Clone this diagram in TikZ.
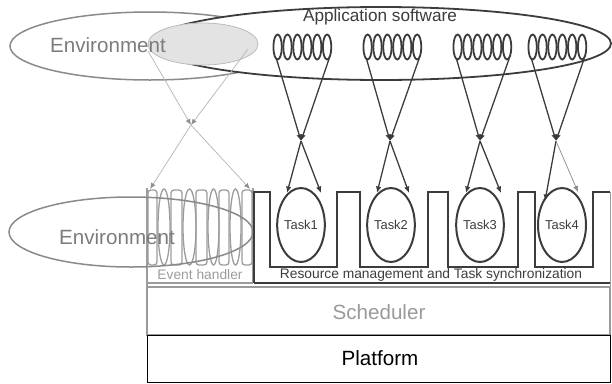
\documentclass[tikz,border=0pt]{standalone}
\usepackage{fontspec}
\setmainfont{Liberation Sans}
\usetikzlibrary{arrows.meta,shapes.geometric}
\definecolor{dk}{HTML}{3C3C3C}
\definecolor{envc}{HTML}{8A8A8A}
\definecolor{envt}{HTML}{7C7C7C}
\definecolor{evc}{HTML}{9C9C9C}
\definecolor{ltl}{HTML}{BBBBBB}
\definecolor{ltt}{HTML}{8E8E8E}
\definecolor{grayfill}{HTML}{E3E3E3}
\definecolor{schc}{HTML}{9A9A9A}
\tikzset{
  darkline/.style={draw=dk, line width=1.3pt},
  darktip/.style={-{Latex[length=6.5pt,width=5.5pt]}, darkline},
  lighttip/.style={-{Latex[length=6pt,width=5pt,fill=ltt,color=ltt]}, draw=ltl, line width=0.8pt},
  coilring/.style={draw=dk, line width=1.8pt},
  tasknode/.style={draw=dk, line width=2pt, ellipse, minimum width=44pt, minimum height=74pt, inner sep=0pt, font=\fontsize{12.9}{15}\selectfont, text=dk},
  evpart/.style={draw=evc, line width=1.3pt},
  bigtext/.style={font=\fontsize{20.6}{24}\selectfont},
  smalltext/.style={font=\fontsize{13.8}{16}\selectfont},
}
\begin{document}
\begin{tikzpicture}[x=1pt,y=-1pt]
\useasboundingbox (0,0) rectangle (612,383);
% top environment ellipse
\draw[draw=envc, line width=1.5pt] (150,46) ellipse [x radius=140, y radius=34];
% application software ellipse
\draw[fill=white, draw=dk, line width=1.8pt] (381,43.5) ellipse [x radius=230, y radius=36.5];
\node[font=\fontsize{17.2}{20}\selectfont, text=dk] (app) at (380,17) {Application software};
% gray inner ellipse
\draw[fill=grayfill, draw=ltl, line width=0.8pt] (203,44) ellipse [x radius=55, y radius=21];
\node[bigtext, text=envt] (env1) at (108,45) {Environment};
% coils in application
\foreach \cx/\nm in {273/c1,363/c2,453/c3,528/c4}{
  \foreach \k in {0,...,5}{
    \draw[coilring] ({\cx+4.6+\k*9.9},47) ellipse [x radius=4.2, y radius=12.5];
  }
  \coordinate (\nm l) at ({\cx+3.5},59);
  \coordinate (\nm r) at ({\cx+56},59);
}
% junctions
\coordinate (j1) at (301,141);
\coordinate (j2) at (390,141);
\coordinate (j3) at (480,141);
\coordinate (j4) at (556,141);
\coordinate (je) at (191,125);
% task ellipses
\node[tasknode, minimum width=46pt] (t1) at (301,225) {Task1};
\node[tasknode, minimum width=42pt] (t2) at (391,225) {Task2};
\node[tasknode, minimum width=44pt] (t3) at (480,225) {Task3};
\node[tasknode, minimum width=48pt] (t4) at (562,225) {Task4};
% arrows
\draw[darktip] (c1l) -- (j1);
\draw[darktip] (c1r) -- (j1);
\draw[darktip] (c2l) -- (j2);
\draw[darktip] (c2r) -- (j2);
\draw[darktip] (c3l) -- (j3);
\draw[darktip] (c3r) -- (j3);
\draw[darktip] (c4l) -- (j4);
\draw[darktip] (c4r) -- (j4);
\coordinate (t1a) at (287,193);
\coordinate (t1b) at (321,193);
\coordinate (t2a) at (377,193);
\coordinate (t2b) at (409,193);
\coordinate (t3a) at (466,193);
\coordinate (t3b) at (501,193);
\coordinate (t4a) at (545,201);
\coordinate (t4b) at (578,192);
\draw[darktip] (j1) -- (t1a);
\draw[darktip] (j1) -- (t1b);
\draw[darktip] (j2) -- (t2a);
\draw[darktip] (j2) -- (t2b);
\draw[darktip] (j3) -- (t3a);
\draw[darktip] (j3) -- (t3b);
\draw[darktip] (j4) -- (t4a);
\draw[-{Latex[length=6pt,width=5pt]}, draw=dk!60, line width=0.7pt] (j4) -- (t4b);
% environment light arrows
\coordinate (ga) at (148,51);
\coordinate (gb) at (248,49);
\coordinate (ea) at (150,189);
\coordinate (eb) at (250,189);
\draw[lighttip] (ga) -- (je);
\draw[lighttip] (gb) -- (je);
\draw[lighttip] (je) -- (ea);
\draw[lighttip] (je) -- (eb);
% event handler coil
\foreach \xa/\xb in {148/157,171/182,196/207,219/229,242/252}{
  \draw[evpart, rounded corners=3pt] (\xa,265) -- (\xa,190) -- (\xb,190) -- (\xb,265) -- cycle;
}
\foreach \ex/\erx in {164/6,189.5/6.5,213.5/5.5,235.5/5.5}{
  \draw[evpart] (\ex,227) ellipse [x radius=\erx, y radius=38];
}
\draw[evpart] (147,188) -- (147,287);
\draw[evpart] (253,188) -- (253,283);
\draw[evpart] (147,283) -- (253,283);
\node[smalltext, text=evc] (evh) at (200,275) {Event handler};
% bottom environment ellipse
\draw[draw=envc, line width=1.5pt] (131,232) ellipse [x radius=122, y radius=35];
\node[bigtext, text=envt] (env2) at (117,237) {Environment};
% resource comb
\draw[draw=dk, line width=1.8pt, line join=miter] (254,283) -- (254,192) -- (270,192) -- (270,267) -- (337,267) -- (337,192) -- (360,192) -- (360,267) -- (428,267) -- (428,192) -- (448,192) -- (448,267) -- (518,267) -- (518,192) -- (535,192) -- (535,267) -- (593,267) -- (593,192) -- (610,192);
\draw[draw=dk, line width=1.2pt] (254,283) -- (610,283);
\node[smalltext, text=dk] (res) at (431,275) {Resource management and Task synchronization};
% scheduler and platform
\draw[draw=schc, line width=1.2pt] (147,287) rectangle (610,335);
\node[bigtext, text=schc] (sch) at (379,312) {Scheduler};
\draw[draw=black, line width=1pt] (147,335) rectangle (610,382);
\node[bigtext, text=black] (plat) at (380,358) {Platform};
\draw[draw=schc, line width=1pt] (610,192) -- (610,287);
\end{tikzpicture}
\end{document}
